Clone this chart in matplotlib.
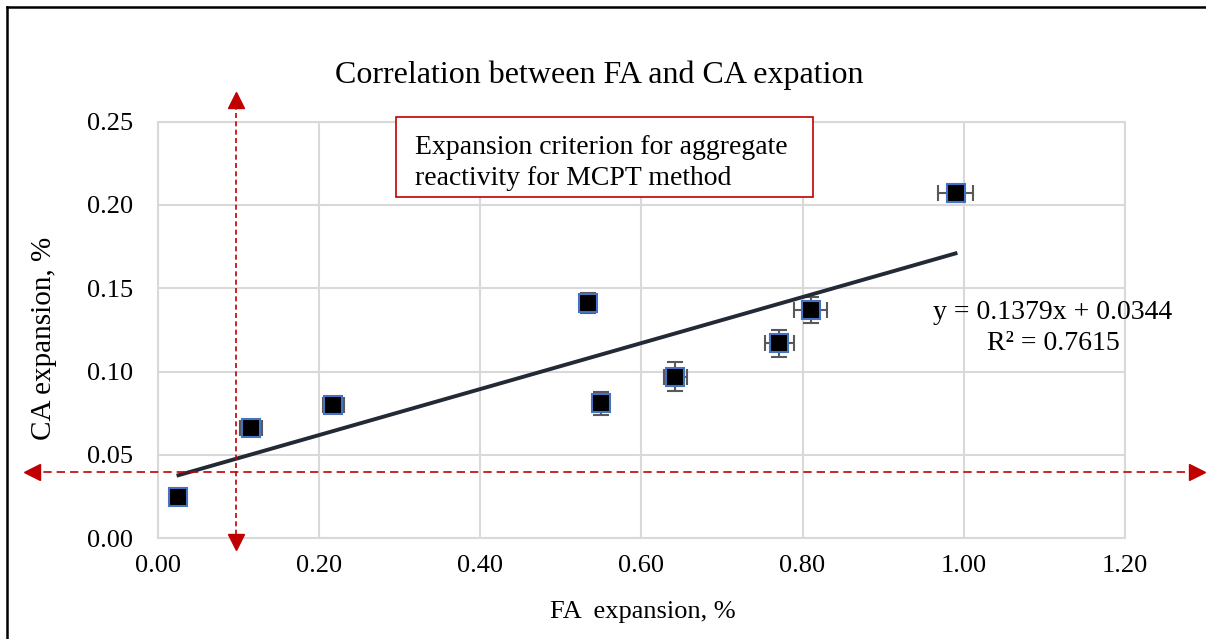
import matplotlib
matplotlib.use("Agg")
import matplotlib.pyplot as plt
import numpy as np
from matplotlib.lines import Line2D
from matplotlib.patches import Rectangle

plt.rcParams['font.family'] = ['Liberation Serif', 'DejaVu Serif']

# --- data ---
fa_expansion = [0.025, 0.115, 0.217, 0.534, 0.550, 0.642, 0.771, 0.810, 0.990]
ca_expansion = [0.025, 0.066, 0.080, 0.141, 0.081, 0.097, 0.117, 0.137, 0.207]
fa_err = [0.000, 0.014, 0.013, 0.004, 0.004, 0.014, 0.018, 0.020, 0.022]
ca_err = [0.000, 0.003, 0.003, 0.006, 0.007, 0.0085, 0.008, 0.008, 0.005]

# linear trend reported on the chart
slope = 0.1379
intercept = 0.0344
r_squared = 0.7615

# expansion criteria (red dashed arrows)
fa_criterion = 0.097
ca_criterion = 0.040

x_ticks = [0.00, 0.20, 0.40, 0.60, 0.80, 1.00, 1.20]
y_ticks = [0.00, 0.05, 0.10, 0.15, 0.20, 0.25]

FS = 19
RED = '#C00000'
GRID = '#D9D9D9'

fig = plt.figure(figsize=(12.06, 6.39), dpi=100)
ax = fig.add_axes([0.1313, 0.1576, 0.8012, 0.6521])

ax.set_xlim(0, 1.2)
ax.set_ylim(0, 0.25)
ax.set_xticks(x_ticks)
ax.set_yticks(y_ticks)
ax.set_xticklabels([f"{v:.2f}" for v in x_ticks])
ax.set_yticklabels([f"{v:.2f}" for v in y_ticks])
ax.tick_params(axis='both', length=0, labelsize=FS)
ax.tick_params(axis='y', pad=18)
ax.tick_params(axis='x', pad=12)
ax.grid(True, color=GRID, lw=1.5)
ax.set_axisbelow(True)
for s in ax.spines.values():
    s.set_color(GRID)
    s.set_linewidth(1.5)

# error bars then markers
ax.errorbar(fa_expansion, ca_expansion, xerr=fa_err, yerr=ca_err, fmt='none',
            ecolor='#595959', elinewidth=1.5, capsize=6, capthick=1.5, zorder=3)
ax.plot(fa_expansion, ca_expansion, 's', ms=12.5, mfc='black', mec='#4472C4',
        mew=1.5, zorder=4)

# trend line
xt = np.array([min(fa_expansion), max(fa_expansion)])
ax.plot(xt, slope * xt + intercept, color='#222A35', lw=2.8, zorder=3)

# criterion arrows (dashed lines with solid heads)
ax.plot([fa_criterion, fa_criterion], [-0.003, 0.264], ls=(0, (3, 2)), color=RED,
        lw=1.2, clip_on=False, zorder=5)
ax.plot([fa_criterion], [0.263], marker='^', ms=11, color=RED, clip_on=False, zorder=5)
ax.plot([fa_criterion], [-0.002], marker='v', ms=11, color=RED, clip_on=False, zorder=5)

ax.plot([-0.16, 1.29], [ca_criterion, ca_criterion], ls=(0, (5, 3)), color=RED,
        lw=1.2, clip_on=False, zorder=5)
ax.plot([-0.157], [ca_criterion], marker='<', ms=11, color=RED, clip_on=False, zorder=5)
ax.plot([1.29], [ca_criterion], marker='>', ms=11, color=RED, clip_on=False, zorder=5)

# texts
fig.text(599 / 1206, 1 - 75 / 639, "Correlation between FA and CA expation",
         ha='center', va='center', fontsize=23)
fig.text(44 / 1206, 1 - 338 / 639, "CA expansion, %", rotation=90,
         ha='center', va='center', fontsize=21)
fig.text(643 / 1206, 1 - 612 / 639, "FA  expansion, %",
         ha='center', va='center', fontsize=FS)
fig.text(1053 / 1206, 1 - 328 / 639,
         f"y = {slope}x + {intercept}\nR\u00b2 = {r_squared}",
         ha='center', va='center', multialignment='center', fontsize=20,
         linespacing=1.3)

# criterion note box
fig.patches.append(Rectangle((396 / 1206, 1 - 197 / 639), (813 - 396) / 1206,
                             (197 - 116.5) / 639, transform=fig.transFigure,
                             fc='white', ec=RED, lw=1.2, zorder=6))
fig.text(415 / 1206, 1 - 163 / 639,
         "Expansion criterion for aggregate\nreactivity for MCPT method",
         ha='left', va='center', fontsize=20, linespacing=1.3, zorder=7)

# frame border (left and top only)
fig.add_artist(Line2D([7 / 1206, 7 / 1206], [0, 1 - 7 / 639], color='black',
                      lw=1.8, transform=fig.transFigure))
fig.add_artist(Line2D([7 / 1206, 1], [1 - 7 / 639, 1 - 7 / 639], color='black',
                      lw=1.8, transform=fig.transFigure))

fig.savefig("out.png", dpi=100)
